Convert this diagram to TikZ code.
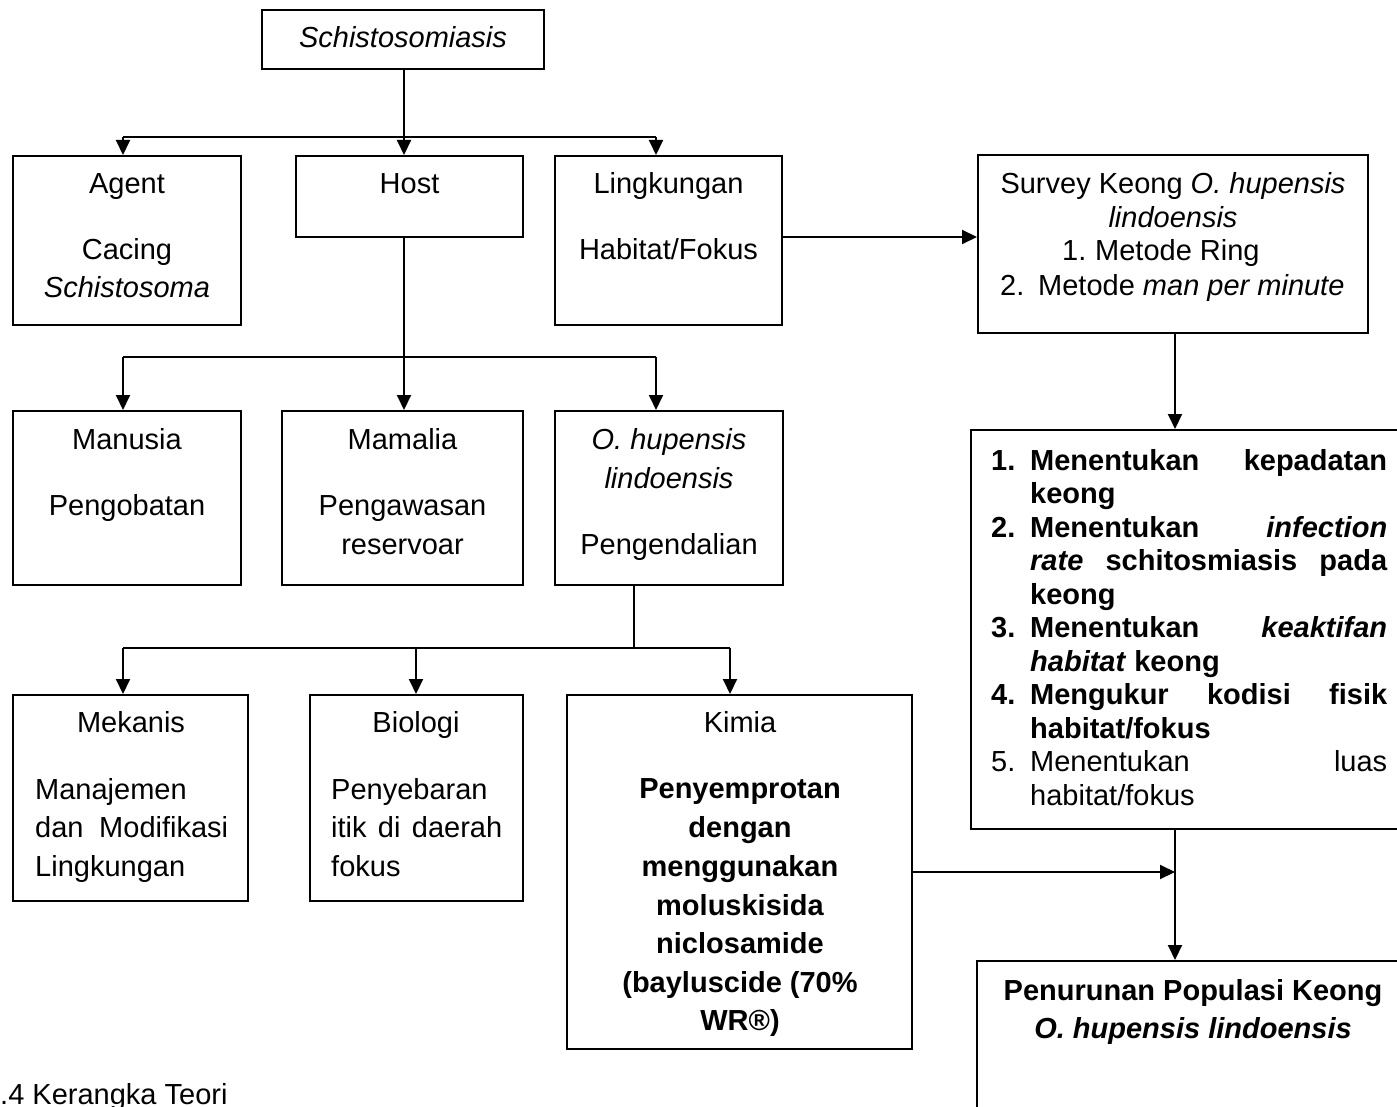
\documentclass[tikz,border=0pt]{standalone}
\usepackage{fontspec}
\setmainfont{Liberation Sans}
\usetikzlibrary{arrows.meta}
\begin{document}
\begin{tikzpicture}[x=1pt,y=-1pt,
  box/.style={draw, line width=2pt, inner sep=0pt},
  txt/.style={anchor=base, inner sep=0pt, font=\fontsize{29}{39}\selectfont},
  btxt/.style={txt, font=\fontsize{29}{39}\selectfont\bfseries},
  ltxt/.style={txt, anchor=base west},
  lbtxt/.style={btxt, anchor=base west},
  conn/.style={line width=2pt},
  arr/.style={conn, -{Triangle[length=15pt,width=14pt]}}]
\useasboundingbox (0,0) rectangle (1397,1107);
% boxes
\node[box, minimum width=282pt, minimum height=59pt] (schisto) at (403,39.5) {};
\node[box, minimum width=228pt, minimum height=169pt] (agent) at (127,240.5) {};
\node[box, minimum width=227pt, minimum height=81pt] (host) at (409.5,196.5) {};
\node[box, minimum width=227pt, minimum height=169pt] (lingk) at (668.5,240.5) {};
\node[box, minimum width=390pt, minimum height=178pt] (survey) at (1173,244) {};
\node[box, minimum width=228pt, minimum height=174pt] (manusia) at (127,498) {};
\node[box, minimum width=241pt, minimum height=174pt] (mamalia) at (402.5,498) {};
\node[box, minimum width=228pt, minimum height=174pt] (ohup) at (669,498) {};
\node[box, minimum width=235pt, minimum height=206pt] (mekanis) at (130.5,798) {};
\node[box, minimum width=213pt, minimum height=206pt] (biologi) at (416.5,798) {};
\node[box, minimum width=345pt, minimum height=354pt] (kimia) at (739.5,872) {};
\node[box, minimum width=434pt, minimum height=399pt] (list) at (1188,629.5) {};
\node[box, minimum width=433pt, minimum height=164pt] (bottom) at (1193.5,1043) {};
% junction coordinates
\coordinate (h1l) at (123,137);
\coordinate (h1m) at (404,137);
\coordinate (h1r) at (656,137);
\coordinate (h2l) at (123,357);
\coordinate (h2m) at (404,357);
\coordinate (h2r) at (656,357);
\coordinate (h3l) at (123,648);
\coordinate (h3b) at (416,648);
\coordinate (h3m) at (634,648);
\coordinate (h3r) at (730,648);
\coordinate (la) at (782,237);
\coordinate (vx) at (1175,0);
% connectors level 1
\draw[conn] (h1m |- schisto.south) -- (h1m);
\draw[conn] (h1l) -- (h1r);
\draw[arr] (h1l) -- (h1l |- agent.north);
\draw[arr] (h1m) -- (h1m |- host.north);
\draw[arr] (h1r) -- (h1r |- lingk.north);
% level 2
\draw[conn] (h2m |- host.south) -- (h2m);
\draw[conn] (h2l) -- (h2r);
\draw[arr] (h2l) -- (h2l |- manusia.north);
\draw[arr] (h2m) -- (h2m |- mamalia.north);
\draw[arr] (h2r) -- (h2r |- ohup.north);
% level 3
\draw[conn] (h3m |- ohup.south) -- (h3m);
\draw[conn] (h3l) -- (h3r);
\draw[arr] (h3l) -- (h3l |- mekanis.north);
\draw[arr] (h3b) -- (h3b |- biologi.north);
\draw[arr] (h3r) -- (h3r |- kimia.north);
% right side
\draw[arr] (la) -- (la -| survey.west);
\draw[arr] (vx |- survey.south) -- (vx |- list.north);
\draw[arr] (vx |- list.south) -- (vx |- bottom.north);
\draw[arr] (kimia.east) -- (vx |- kimia.east);
% texts
\node[txt] (tSch) at (403,48) {\itshape Schistosomiasis};
\node[txt] (tAg1) at (127,194) {Agent};
\node[txt] (tAg2) at (127,260) {Cacing};
\node[txt] (tAg3) at (127,298) {\itshape Schistosoma};
\node[txt] (tHo) at (409.5,194) {Host};
\node[txt] (tLi1) at (668.5,194) {Lingkungan};
\node[txt] (tLi2) at (668.5,260) {Habitat/Fokus};
\node[txt] (tSu1) at (1173,194) {Survey Keong \textit{O. hupensis}};
\node[txt] (tSu2) at (1173,228) {\itshape lindoensis};
\node[ltxt] (tSu3a) at (1062,261) {1.};
\node[ltxt] (tSu3b) at (1095,261) {Metode Ring};
\node[ltxt] (tSu4a) at (1000,295) {2.};
\node[ltxt] (tSu4b) at (1038,295) {Metode \textit{man per minute}};
\node[txt] (tMa1) at (127,449) {Manusia};
\node[txt] (tMa2) at (127,515) {Pengobatan};
\node[txt] (tMm1) at (402.5,449) {Mamalia};
\node[txt] (tMm2) at (402.5,515) {Pengawasan};
\node[txt] (tMm3) at (402.5,554) {reservoar};
\node[txt] (tOh1) at (669,449) {\itshape O. hupensis};
\node[txt] (tOh2) at (669,488) {\itshape lindoensis};
\node[txt] (tOh3) at (669,554) {Pengendalian};
\node[txt] (tMe1) at (131,732) {Mekanis};
\node[ltxt] (tMe2) at (35,799) {Manajemen};
\node[ltxt] (tMe3) at (35,837) {\hbox to 193pt{dan\hfill Modifikasi}};
\node[ltxt] (tMe4) at (35,876) {Lingkungan};
\node[txt] (tBi1) at (416,732) {Biologi};
\node[ltxt] (tBi2) at (331,799) {Penyebaran};
\node[ltxt] (tBi3) at (331,837) {\hbox to 171pt{itik\hfill di\hfill daerah}};
\node[ltxt] (tBi4) at (331,876) {fokus};
\node[txt] (tKi1) at (740,732) {Kimia};
\node[btxt] (tKi2) at (740,798) {Penyemprotan};
\node[btxt] (tKi3) at (740,837) {dengan};
\node[btxt] (tKi4) at (740,876) {menggunakan};
\node[btxt] (tKi5) at (740,915) {moluskisida};
\node[btxt] (tKi6) at (740,953) {niclosamide};
\node[btxt] (tKi7) at (740,992) {(bayluscide (70\%};
\node[btxt] (tKi8) at (740,1030) {WR®)};
% list
\node[lbtxt] (n1) at (991,470) {1.};
\node[lbtxt] (l1) at (1030,470) {\hbox to 357pt{Menentukan\hfill kepadatan}};
\node[lbtxt] (l2) at (1030,503.5) {keong};
\node[lbtxt] (n2) at (991,537) {2.};
\node[lbtxt] (l3) at (1030,537) {\hbox to 357pt{Menentukan\hfill \itshape infection}};
\node[lbtxt] (l4) at (1030,570.5) {\hbox to 357pt{\itshape rate\hfill \upshape schitosmiasis\hfill pada}};
\node[lbtxt] (l5) at (1030,604) {keong};
\node[lbtxt] (n3) at (991,637.5) {3.};
\node[lbtxt] (l6) at (1030,637.5) {\hbox to 357pt{Menentukan\hfill \itshape keaktifan}};
\node[lbtxt] (l7) at (1030,671) {\textit{habitat} keong};
\node[lbtxt] (n4) at (991,704.5) {4.};
\node[lbtxt] (l8) at (1030,704.5) {\hbox to 357pt{Mengukur\hfill kodisi\hfill fisik}};
\node[lbtxt] (l9) at (1030,738) {habitat/fokus};
\node[ltxt] (n5) at (991,771.5) {5.};
\node[ltxt] (l10) at (1030,771.5) {\hbox to 357pt{Menentukan\hfill luas}};
\node[ltxt] (l11) at (1030,805) {habitat/fokus};
% bottom
\node[btxt] (tBo1) at (1193,1000) {Penurunan Populasi Keong};
\node[btxt] (tBo2) at (1193,1038) {\itshape O. hupensis lindoensis};
% caption
\node[ltxt] (cap) at (0,1104) {.4 Kerangka Teori};
\end{tikzpicture}
\end{document}
